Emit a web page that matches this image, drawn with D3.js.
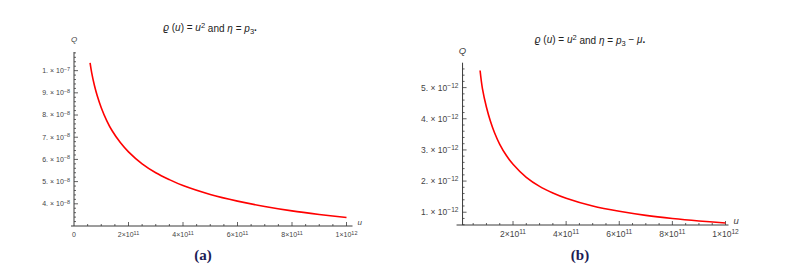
<!DOCTYPE html>
<html>
<head>
    <title>Q versus u</title>
    <script src="https://d3js.org/d3.v7.min.js"></script>
    <style>
        body { margin: 0; background: #fff; }
        text { font-family: 'Liberation Sans', Arial, sans-serif; }
    </style>
</head>
<body>
    <svg id="chart"></svg>

    <script>
        // Panel (a): rho(u) = u^2, eta = p3
        const uA = [0.59e11, 0.65e11, 0.75e11, 0.85e11, 1.0e11, 1.2e11, 1.4e11, 1.7e11, 2.0e11, 2.5e11,
                    3.0e11, 3.5e11, 4.0e11, 5.0e11, 6.0e11, 7.0e11, 8.0e11, 9.0e11, 10.0e11];
        const qA = [10.35e-8, 9.9e-8, 9.33e-8, 8.88e-8, 8.33e-8, 7.75e-8, 7.29e-8, 6.76e-8, 6.34e-8, 5.8e-8,
                    5.4e-8, 5.09e-8, 4.82e-8, 4.42e-8, 4.12e-8, 3.88e-8, 3.68e-8, 3.52e-8, 3.38e-8];

        // Panel (b): rho(u) = u^2, eta = p3 - mu
        const uB = [0.76e11, 0.85e11, 1.0e11, 1.15e11, 1.3e11, 1.5e11, 1.75e11, 2.0e11, 2.5e11,
                    3.0e11, 3.5e11, 4.0e11, 5.0e11, 6.0e11, 7.0e11, 8.0e11, 9.0e11, 10.0e11];
        const qB = [5.55e-12, 4.96e-12, 4.37e-12, 3.92e-12, 3.56e-12, 3.18e-12, 2.82e-12, 2.54e-12, 2.12e-12,
                    1.83e-12, 1.62e-12, 1.45e-12, 1.2e-12, 1.03e-12, 0.9e-12, 0.8e-12, 0.72e-12, 0.655e-12];

        // Tick labels
        const xTicks = [2e11, 4e11, 6e11, 8e11, 1e12];
        const xTickLabels = [['2×10', '11'], ['4×10', '11'], ['6×10', '11'], ['8×10', '11'], ['1×10', '12']];
        const yTicksA = [4e-8, 5e-8, 6e-8, 7e-8, 8e-8, 9e-8, 1e-7];
        const yTickLabelsA = [['4. × 10', '−8'], ['5. × 10', '−8'], ['6. × 10', '−8'], ['7. × 10', '−8'],
                              ['8. × 10', '−8'], ['9. × 10', '−8'], ['1. × 10', '−7']];
        const yTicksB = [1e-12, 2e-12, 3e-12, 4e-12, 5e-12];
        const yTickLabelsB = [['1. × 10', '−12'], ['2. × 10', '−12'], ['3. × 10', '−12'],
                              ['4. × 10', '−12'], ['5. × 10', '−12']];

        const width = 790;
        const height = 267;
        const axisColor = '#3a3a3a';
        const labelColor = '#444';

        const svg = d3.select('#chart')
            .attr('width', width)
            .attr('height', height);

        function supLabel(sel, parts) {
            sel.append('tspan').text(parts[0]);
            sel.append('tspan')
                .attr('dy', '-0.45em')
                .attr('font-size', '0.78em')
                .text(parts[1]);
        }

        function drawPanel(p) {
            const g = svg.append('g');

            const x = d3.scaleLinear().domain([0, 1e12]).range(p.xRange);
            const y = d3.scaleLinear().domain(p.yDomain).range(p.yRange);

            const x0 = x(p.originU);
            const y0 = p.yRange[0];

            // axes lines
            g.append('line')
                .attr('x1', x0 - p.xAxisPad[0]).attr('x2', x(1e12) + p.xAxisPad[1])
                .attr('y1', y0).attr('y2', y0)
                .attr('stroke', axisColor).attr('stroke-width', 1);
            g.append('line')
                .attr('x1', x0).attr('x2', x0)
                .attr('y1', y0).attr('y2', p.yRange[1])
                .attr('stroke', axisColor).attr('stroke-width', 1);

            // x minor and major ticks (pointing up)
            const xMinor = d3.range(5e10, 1.0001e12, 5e10);
            g.selectAll('.xminor')
                .data(xMinor)
                .enter()
                .append('line')
                .attr('x1', d => x(d)).attr('x2', d => x(d))
                .attr('y1', y0)
                .attr('y2', d => y0 - (xTicks.some(t => Math.abs(t - d) < 1) ? 4 : 2))
                .attr('stroke', axisColor).attr('stroke-width', 0.8);

            g.selectAll('.xlab')
                .data(xTicks)
                .enter()
                .append('text')
                .attr('x', d => x(d))
                .attr('y', y0 + p.xLabelDy)
                .attr('text-anchor', 'middle')
                .attr('font-size', p.tickFont)
                .attr('fill', labelColor)
                .each(function (d, i) { supLabel(d3.select(this), xTickLabels[i]); });

            if (p.zeroLabel) {
                g.append('text')
                    .attr('x', x(0)).attr('y', y0 + p.xLabelDy)
                    .attr('text-anchor', 'middle')
                    .attr('font-size', p.tickFont)
                    .attr('fill', labelColor)
                    .text('0');
            }

            // y minor and major ticks (pointing right)
            const yMinor = d3.range(p.yMinorStart, p.yDomain[1], p.yMinorStep);
            g.selectAll('.yminor')
                .data(yMinor)
                .enter()
                .append('line')
                .attr('x1', x0)
                .attr('x2', d => x0 + (p.yTicks.some(t => Math.abs(t - d) < p.yMinorStep / 10) ? 4 : 2))
                .attr('y1', d => y(d)).attr('y2', d => y(d))
                .attr('stroke', axisColor).attr('stroke-width', 0.8);

            g.selectAll('.ylab')
                .data(p.yTicks)
                .enter()
                .append('text')
                .attr('x', x0 - 4)
                .attr('y', d => y(d) + p.tickFont * 0.35)
                .attr('text-anchor', 'end')
                .attr('font-size', p.tickFont)
                .attr('fill', labelColor)
                .each(function (d, i) { supLabel(d3.select(this), p.yTickLabels[i]); });

            // axis labels
            g.append('text')
                .attr('x', x0).attr('y', p.qLabelY)
                .attr('text-anchor', 'middle')
                .attr('font-size', p.tickFont + 1)
                .attr('font-style', 'italic')
                .attr('fill', labelColor)
                .text('Q');
            g.append('text')
                .attr('x', x(1e12) + p.xAxisPad[1] + 5).attr('y', y0 - 1)
                .attr('text-anchor', 'start')
                .attr('font-size', p.tickFont + 1)
                .attr('font-style', 'italic')
                .attr('fill', labelColor)
                .text('u');

            // curve
            const pts = p.u.map((d, i) => [d, p.q[i]]);
            const line = d3.line()
                .x(d => x(d[0]))
                .y(d => y(d[1]))
                .curve(d3.curveCatmullRom.alpha(0.5));
            g.append('path')
                .datum(pts)
                .attr('d', line)
                .attr('fill', 'none')
                .attr('stroke', '#ff0000')
                .attr('stroke-width', 1.6);

            // title
            const t = g.append('text')
                .attr('x', p.titleX).attr('y', p.titleY)
                .attr('text-anchor', 'middle')
                .attr('font-size', 10)
                .attr('fill', '#222');
            t.append('tspan').attr('font-style', 'italic').text('ϱ');
            t.append('tspan').text(' (');
            t.append('tspan').attr('font-style', 'italic').text('u');
            t.append('tspan').text(') = ');
            t.append('tspan').attr('font-style', 'italic').text('u');
            t.append('tspan').attr('dy', '-0.45em').attr('font-size', '0.75em').text('2');
            t.append('tspan').attr('dy', '0.45em').text(' and  ');
            t.append('tspan').attr('font-style', 'italic').text('η');
            t.append('tspan').text(' = ');
            t.append('tspan').attr('font-style', 'italic').text('p');
            t.append('tspan').attr('dy', '0.3em').attr('font-size', '0.75em').text('3');
            if (p.minusMu) {
                t.append('tspan').attr('dy', '-0.3em').text(' − ');
                t.append('tspan').attr('font-style', 'italic').text('μ');
                t.append('tspan').attr('font-weight', 'bold').text('.');
            } else {
                t.append('tspan').attr('dy', '-0.3em').attr('font-weight', 'bold').text('.');
            }

            // caption
            g.append('text')
                .attr('x', p.captionX).attr('y', 260)
                .attr('text-anchor', 'middle')
                .style('font-family', "'Liberation Serif', 'DejaVu Serif', serif")
                .attr('font-weight', 'bold')
                .attr('font-size', 15)
                .attr('fill', '#1c1c55')
                .text(p.caption);
        }

        drawPanel({
            u: uA, q: qA,
            xRange: [74, 346.5], yDomain: [3.0e-8, 1.084e-7], yRange: [226, 52],
            originU: 0, xAxisPad: [3, 6],
            yTicks: yTicksA, yTickLabels: yTickLabelsA,
            yMinorStart: 3.2e-8, yMinorStep: 2e-9,
            tickFont: 7, xLabelDy: 11, zeroLabel: true,
            qLabelY: 42, titleX: 210, titleY: 31, minusMu: false,
            captionX: 203, caption: '(a)'
        });

        drawPanel({
            u: uB, q: qB,
            xRange: [459.9, 725.5], yDomain: [0.59e-12, 5.8e-12], yRange: [225, 62.7],
            originU: 1e10, xAxisPad: [6, 3],
            yTicks: yTicksB, yTickLabels: yTickLabelsB,
            yMinorStart: 0.6e-12, yMinorStep: 2e-13,
            tickFont: 8.5, xLabelDy: 12, zeroLabel: false,
            qLabelY: 54, titleX: 590, titleY: 43, minusMu: true,
            captionX: 580, caption: '(b)'
        });
    </script>
</body>
</html>
